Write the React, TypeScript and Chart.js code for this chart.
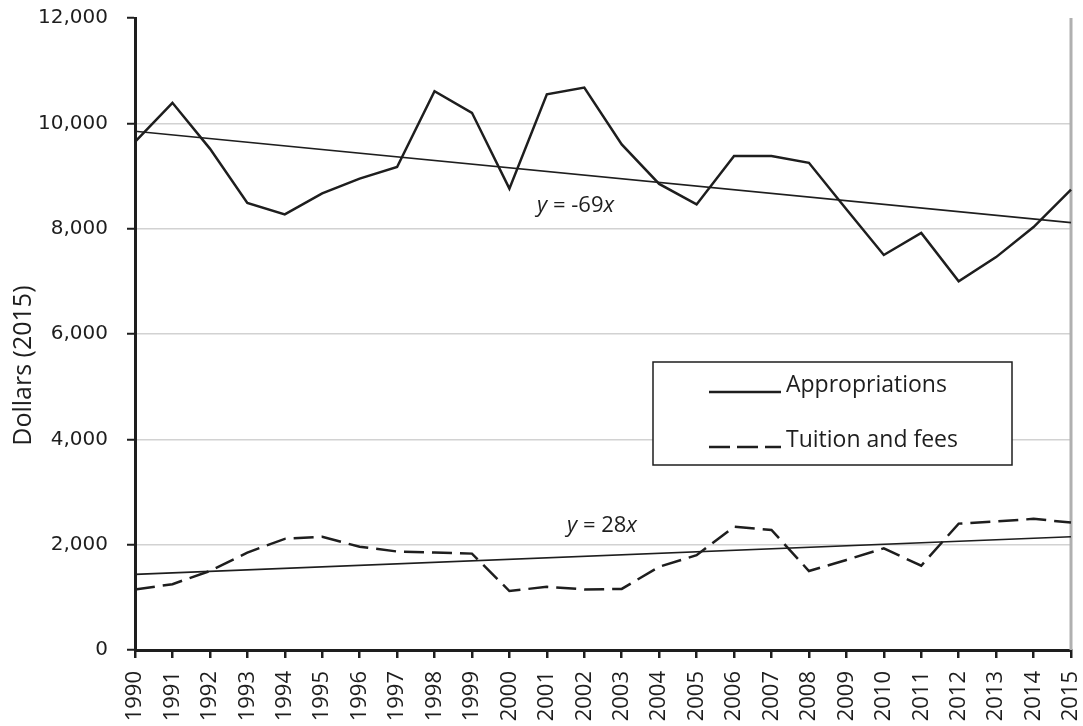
import React, { useEffect, useRef } from 'react';
import { Chart, registerables } from 'chart.js';

Chart.register(...registerables);

const years = ['1990', '1991', '1992', '1993', '1994', '1995', '1996', '1997', '1998', '1999', '2000', '2001', '2002', '2003', '2004', '2005', '2006', '2007', '2008', '2009', '2010', '2011', '2012', '2013', '2014', '2015'];

const appropriations = [9650, 10390, 9520, 8490, 8270, 8670, 8950, 9170, 10610, 10200, 8760, 10550, 10680, 9600, 8850, 8460, 9380, 9380, 9250, 8370, 7500, 7920, 7000, 7460, 8030, 8740];

const tuitionFees = [1150, 1250, 1500, 1850, 2110, 2150, 1960, 1870, 1850, 1830, 1120, 1200, 1150, 1160, 1580, 1800, 2340, 2280, 1500, 1710, 1930, 1600, 2400, 2440, 2490, 2420];

// trend line end values (1990, 2015)
const appropriationsTrend = [9850, 8115];
const tuitionTrend = [1436, 2150];

const seriesLabels = ['Appropriations', 'Tuition and fees'];
const equationTexts = ['y = -69x', 'y = 28x'];
// anchor of each equation: category index, value (baseline)
const equationIndex = [10.74, 11.54];
const equationValue = [8310, 2240];

const yTicks = [0, 2000, 4000, 6000, 8000, 10000, 12000];
const yTitle = 'Dollars (2015)';

const INK = '#1e1e1e';

function trendData(ends: number[]) {
  return years.map((_, i) => (i === 0 ? ends[0] : i === years.length - 1 ? ends[1] : null));
}

function drawEquation(ctx: CanvasRenderingContext2D, text: string, x: number, y: number) {
  const parts = text.split(/([a-z])/).filter((p) => p.length > 0);
  let cx = x;
  ctx.textBaseline = 'alphabetic';
  ctx.textAlign = 'left';
  ctx.fillStyle = INK;
  for (const p of parts) {
    const italic = /^[a-z]$/.test(p);
    ctx.font = `${italic ? 'italic ' : ''}22px "Open Sans"`;
    ctx.fillText(p, cx, y);
    cx += ctx.measureText(p).width;
  }
}

const decorPlugin = {
  id: 'decor',
  beforeDatasetsDraw(chart: any) {
    const { ctx, chartArea } = chart;
    ctx.save();
    ctx.strokeStyle = '#b0b0b0';
    ctx.lineWidth = 3;
    ctx.beginPath();
    ctx.moveTo(chartArea.right, chartArea.top);
    ctx.lineTo(chartArea.right, chartArea.bottom);
    ctx.stroke();
    ctx.restore();
  },
  afterDraw(chart: any) {
    const { ctx, chartArea, scales } = chart;
    const xs = scales.x;
    const ys = scales.y;
    ctx.save();

    // equations
    equationTexts.forEach((t, i) => {
      const x0 = xs.getPixelForValue(0);
      const x1 = xs.getPixelForValue(1);
      const px = x0 + (x1 - x0) * equationIndex[i];
      const py = ys.getPixelForValue(equationValue[i]);
      drawEquation(ctx, t, px, py);
    });

    // y title
    ctx.save();
    ctx.translate(24, chartArea.top + (chartArea.bottom - chartArea.top) * 0.55);
    ctx.rotate(-Math.PI / 2);
    ctx.font = '25px "Open Sans"';
    ctx.fillStyle = INK;
    ctx.textAlign = 'center';
    ctx.textBaseline = 'middle';
    ctx.fillText(yTitle, 0, 0);
    ctx.restore();

    // legend
    const L = 653, T = 362, R = 1012, B = 465;
    ctx.fillStyle = '#ffffff';
    ctx.fillRect(L, T, R - L, B - T);
    ctx.strokeStyle = INK;
    ctx.lineWidth = 1.5;
    ctx.strokeRect(L, T, R - L, B - T);
    const baselines = [392, 447];
    seriesLabels.forEach((lab, i) => {
      const by = baselines[i];
      ctx.strokeStyle = INK;
      ctx.lineWidth = 2.5;
      ctx.setLineDash(i === 1 ? [21, 7] : []);
      ctx.beginPath();
      ctx.moveTo(709, by);
      ctx.lineTo(781, by);
      ctx.stroke();
      ctx.setLineDash([]);
      ctx.font = '23px "Open Sans"';
      ctx.fillStyle = INK;
      ctx.textAlign = 'left';
      ctx.textBaseline = 'alphabetic';
      ctx.fillText(lab, 786, by);
    });
    ctx.restore();
  },
};

export default function App() {
  const canvasRef = useRef<HTMLCanvasElement | null>(null);

  useEffect(() => {
    const canvas = canvasRef.current;
    if (!canvas) return;
    const chart = new Chart(canvas, {
      type: 'line',
      data: {
        labels: years,
        datasets: [
          {
            label: seriesLabels[0],
            data: appropriations,
            borderColor: INK,
            borderWidth: 2.5,
            pointRadius: 0,
            tension: 0,
            fill: false,
          },
          {
            label: seriesLabels[1],
            data: tuitionFees,
            borderColor: INK,
            borderWidth: 2.5,
            borderDash: [20, 8],
            pointRadius: 0,
            tension: 0,
            fill: false,
          },
          {
            label: 'Appropriations trend',
            data: trendData(appropriationsTrend),
            borderColor: INK,
            borderWidth: 1.6,
            pointRadius: 0,
            spanGaps: true,
            fill: false,
          },
          {
            label: 'Tuition trend',
            data: trendData(tuitionTrend),
            borderColor: INK,
            borderWidth: 1.6,
            pointRadius: 0,
            spanGaps: true,
            fill: false,
          },
        ],
      },
      options: {
        responsive: false,
        animation: false,
        layout: { padding: { top: 18, right: 12, left: 0, bottom: 0 } },
        plugins: {
          legend: { display: false },
          tooltip: { enabled: false },
          title: { display: false },
        },
        scales: {
          x: {
            type: 'category',
            offset: false,
            grid: {
              drawOnChartArea: false,
              drawTicks: true,
              tickLength: 8,
              color: INK,
              lineWidth: 2.5,
            },
            border: { color: INK, width: 3 },
            ticks: {
              minRotation: 90,
              maxRotation: 90,
              autoSkip: false,
              padding: 13,
              color: INK,
              font: { family: '"Open Sans"', size: 22 },
            },
            afterFit: (s: any) => {
              s.height = 76;
              s.paddingLeft = 0;
              s.paddingRight = 0;
            },
          },
          y: {
            min: 0,
            max: 12000,
            afterBuildTicks: (s: any) => {
              s.ticks = yTicks.map((v) => ({ value: v }));
            },
            ticks: {
              padding: 19,
              color: INK,
              font: { family: '"DejaVu Sans"', size: 20 },
              callback: (v: any) => Number(v).toLocaleString('en-US'),
            },
            grid: {
              color: (c: any) => (c.tick && c.tick.value === 12000 ? 'rgba(0,0,0,0)' : '#d2d2d2'),
              lineWidth: 1.5,
              tickColor: INK,
              tickWidth: 2,
              tickLength: 8,
            },
            border: { color: INK, width: 3 },
            afterFit: (s: any) => {
              s.width = 135;
              s.paddingTop = 0;
              s.paddingBottom = 0;
            },
          },
        },
      },
      plugins: [decorPlugin],
    });
    return () => chart.destroy();
  }, []);

  return (
    <div style={{ position: 'fixed', left: 0, top: 0, width: 1083, height: 726, background: '#fff' }}>
      <canvas ref={canvasRef} width={1083} height={726} />
    </div>
  );
}
